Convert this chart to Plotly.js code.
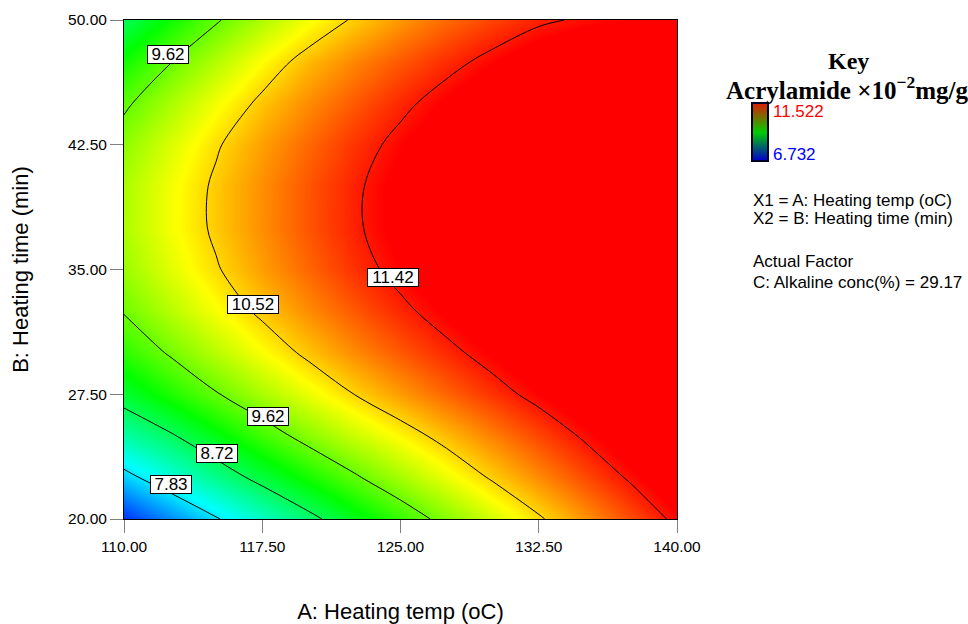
<!DOCTYPE html>
<html>
<head>
<meta charset="utf-8">
<script src="https://cdn.plot.ly/plotly-3.0.1.min.js"></script>
<style>html,body{margin:0;padding:0;background:#fff;}</style>
</head>
<body>
<div id="chart" style="width:968px;height:624px;"></div>
<script>
// ---- data ----
const heatingTemp = [110, 112.5, 115, 117.5, 120, 122.5, 125, 127.5, 130, 132.5, 135, 137.5, 140];
const heatingTime = [20, 22.5, 25, 27.5, 30, 32.5, 35, 37.5, 40, 42.5, 45, 47.5, 50];
// acrylamide (x10^-2 mg/g), one row per heating time, one column per heating temp
const acrylamide = [
  [6.953, 7.379, 7.795, 8.204, 8.604, 8.995, 9.378, 9.752, 10.118, 10.475, 10.824, 11.164, 11.495],
  [7.703, 8.096, 8.480, 8.853, 9.215, 9.568, 9.910, 10.241, 10.563, 10.874, 11.175, 11.465, 11.746],
  [8.350, 8.670, 9.040, 9.415, 9.760, 10.065, 10.355, 10.640, 10.920, 11.195, 11.465, 11.720, 11.964],
  [8.903, 9.253, 9.593, 9.918, 10.228, 10.523, 10.798, 11.053, 11.293, 11.523, 11.743, 11.953, 12.153],
  [9.330, 9.660, 9.985, 10.300, 10.595, 10.865, 11.110, 11.335, 11.550, 11.755, 11.950, 12.131, 12.297],
  [9.646, 9.976, 10.296, 10.591, 10.861, 11.111, 11.346, 11.566, 11.771, 11.961, 12.136, 12.296, 12.441],
  [9.850, 10.180, 10.490, 10.775, 11.040, 11.290, 11.525, 11.740, 11.940, 12.125, 12.295, 12.450, 12.590],
  [9.943, 10.273, 10.578, 10.858, 11.123, 11.373, 11.608, 11.823, 12.023, 12.208, 12.378, 12.533, 12.673],
  [9.924, 10.264, 10.574, 10.854, 11.119, 11.369, 11.604, 11.819, 12.019, 12.204, 12.374, 12.529, 12.669],
  [9.794, 10.149, 10.484, 10.774, 11.034, 11.279, 11.514, 11.729, 11.929, 12.114, 12.284, 12.439, 12.579],
  [9.553, 9.913, 10.268, 10.593, 10.863, 11.108, 11.343, 11.558, 11.758, 11.943, 12.113, 12.268, 12.408],
  [9.201, 9.601, 9.971, 10.326, 10.646, 10.896, 11.116, 11.321, 11.511, 11.686, 11.846, 11.991, 12.121],
  [8.736, 9.176, 9.579, 9.944, 10.272, 10.562, 10.815, 11.030, 11.208, 11.370, 11.460, 11.530, 11.570]
];
const contourLevels = [7.83, 8.72, 9.62, 10.52, 11.42];
const keyMin = 6.732;
const keyMax = 11.522;
const xTickVals = [110, 117.5, 125, 132.5, 140];
const yTickVals = [20, 27.5, 35, 42.5, 50];
const alkalineConc = 29.17;

// ---- layout / style settings ----
const FONT = 'Liberation Sans, Arial, sans-serif';
const SERIF = 'Liberation Serif, Times New Roman, serif';
const surfaceScale = [[0,'rgb(0,0,255)'],[0.25,'rgb(0,255,255)'],[0.5,'rgb(0,255,0)'],[0.75,'rgb(255,255,0)'],[1,'rgb(255,0,0)']];
const keyScale = [[0,'rgb(0,0,205)'],[0.5,'rgb(0,205,0)'],[1,'rgb(215,35,0)']];
// contour label placement (level index, x, y in data units)
const labelPlacement = [
  [2, 112.41, 47.90],
  [3, 116.98, 32.91],
  [4, 124.59, 34.52],
  [2, 117.81, 26.19],
  [1, 115.07, 23.95],
  [0, 112.56, 22.07]
];

const traces = [];
traces.push({
  type: 'heatmap', x: heatingTemp, y: heatingTime, z: acrylamide,
  zmin: keyMin, zmax: keyMax, colorscale: surfaceScale, zsmooth: 'best',
  showscale: false, hoverinfo: 'skip'
});
contourLevels.forEach(function(level){
  traces.push({
    type: 'contour', x: heatingTemp, y: heatingTime, z: acrylamide,
    autocontour: false,
    contours: {start: level, end: level, size: 1, coloring: 'none', showlabels: false},
    line: {color: '#000', width: 1, smoothing: 1},
    showscale: false, hoverinfo: 'skip'
  });
});
// key colour bar
traces.push({
  type: 'heatmap', x: [0, 1], y: [0, 1], z: [[keyMin, keyMin], [keyMax, keyMax]],
  zmin: keyMin, zmax: keyMax, colorscale: keyScale, zsmooth: 'best',
  showscale: false, hoverinfo: 'skip', xaxis: 'x2', yaxis: 'y2'
});

const PW = 834, PH = 499, L = 124, B = 519;
function px(x){ return (x - L) / PW; }
function py(y){ return (B - y) / PH; }

const annotations = labelPlacement.map(function(p){
  const txt = contourLevels[p[0]].toFixed(2);
  return {
    xref: 'x', yref: 'y', x: p[1], y: p[2], text: txt, showarrow: false,
    font: {family: FONT, size: 17, color: '#000'},
    bgcolor: '#fff', bordercolor: '#000', borderwidth: 1, borderpad: 0,
    width: txt.length * 10, height: 17, xanchor: 'center', yanchor: 'middle'
  };
});
function note(text, x, y, opts){
  return Object.assign({xref: 'paper', yref: 'paper', x: px(x), y: py(y), text: text,
    showarrow: false, xanchor: 'left', yanchor: 'middle',
    font: {family: FONT, size: 17, color: '#000'}}, opts || {});
}
annotations.push(note('Key', 848, 61, {xanchor: 'center', font: {family: SERIF, size: 24, color: '#000', weight: 'bold'}}));
annotations.push(note('Acrylamide ×10<sup>−2</sup>mg/g', 847, 88, {xanchor: 'center', font: {family: SERIF, size: 25, color: '#000', weight: 'bold'}}));
annotations.push(note(keyMax.toFixed(3), 771, 112, {font: {family: FONT, size: 17, color: '#ff0000'}}));
annotations.push(note(keyMin.toFixed(3), 771, 154, {font: {family: FONT, size: 17, color: '#0000ff'}}));
annotations.push(note('X1 = A: Heating temp (oC)', 751, 200));
annotations.push(note('X2 = B: Heating time (min)', 751, 219));
annotations.push(note('Actual Factor', 751, 261));
annotations.push(note('C: Alkaline conc(%) = ' + alkalineConc.toFixed(2), 751, 282));

const axisCommon = {
  showline: true, linecolor: '#000', linewidth: 1, mirror: true,
  ticks: 'outside', ticklen: 13, tickcolor: '#808080', tickwidth: 1,
  showgrid: false, zeroline: false, tickformat: '.2f',
  tickfont: {family: FONT, size: 15.5, color: '#000'}
};

const layout = {
  width: 968, height: 624,
  margin: {l: L, r: 968 - L - PW, t: 20, b: 624 - B},
  paper_bgcolor: '#fff', plot_bgcolor: '#fff',
  showlegend: false,
  xaxis: Object.assign({}, axisCommon, {
    domain: [0, 553 / PW], range: [110, 140], tickvals: xTickVals,
    title: {text: 'A: Heating temp (oC)', font: {family: FONT, size: 22, color: '#000'}, standoff: 51}
  }),
  yaxis: Object.assign({}, axisCommon, {
    domain: [0, 1], range: [20, 50], tickvals: yTickVals,
    title: {text: 'B: Heating time (min)', font: {family: FONT, size: 22, color: '#000'}, standoff: 33}
  }),
  xaxis2: {domain: [px(753), px(767)], range: [0, 1], anchor: 'y2', showline: true, mirror: true,
    linecolor: '#000028', linewidth: 2, showticklabels: false, ticks: '', showgrid: false, zeroline: false, fixedrange: true},
  yaxis2: {domain: [py(160), py(104)], range: [0, 1], anchor: 'x2', showline: true, mirror: true,
    linecolor: '#000028', linewidth: 2, showticklabels: false, ticks: '', showgrid: false, zeroline: false, fixedrange: true},
  annotations: annotations
};

Plotly.newPlot('chart', traces, layout, {displayModeBar: false, staticPlot: true});
</script>
</body>
</html>
